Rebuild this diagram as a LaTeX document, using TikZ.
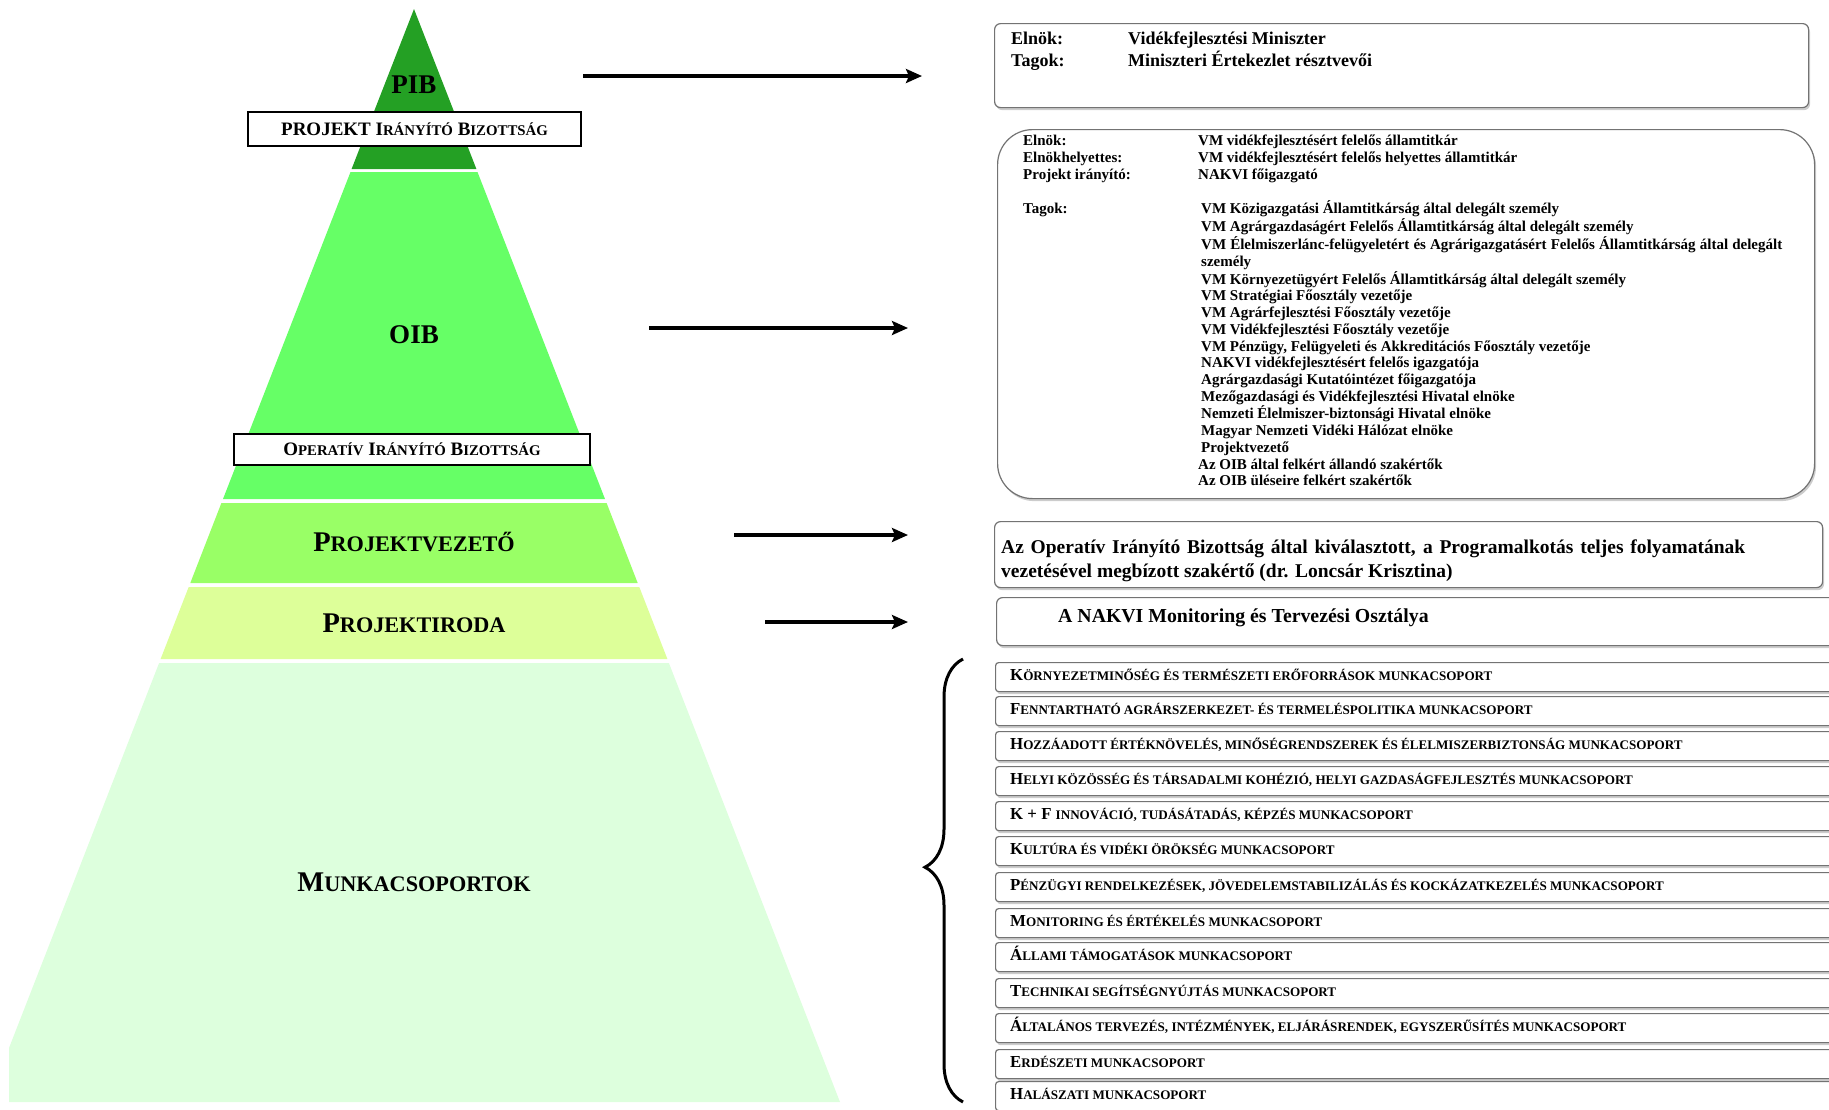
\documentclass[tikz,border=0pt]{standalone}
\usepackage{fontspec}
\setmainfont{Liberation Serif}
\usetikzlibrary{arrows.meta,shadows,decorations.pathreplacing}
\newcommand{\unitsize}{1pt}
\newcommand{\kb}[1]{\scalebox{0.78}{#1}}
\definecolor{pibzold}{RGB}{36,160,36}
\definecolor{oibzold}{RGB}{102,255,102}
\definecolor{pvzold}{RGB}{153,255,102}
\definecolor{pirzold}{RGB}{221,255,153}
\definecolor{mcszold}{RGB}{221,255,221}

\begin{document}
\begin{tikzpicture}
\useasboundingbox (0,0) rectangle (1829*\unitsize,-1109*\unitsize);
\clip (0,0) rectangle (1829*\unitsize,-1109*\unitsize);
\tikzstyle{layertext}=[inner sep=0pt, font=\fontsize{27}{30}\selectfont\bfseries]
\tikzstyle{layersc}=[inner sep=0pt, font=\fontsize{28.5}{31}\selectfont\bfseries]
\tikzstyle{labelbox}=[draw, fill=white, line width=1.5pt, inner sep=0pt,
			font=\fontsize{19}{22}\selectfont\bfseries]
\tikzstyle{infobox}=[draw=black!55, fill=white, line width=1.2pt,
			drop shadow={shadow xshift=1.5pt, shadow yshift=-2.5pt, fill=black!40}]
\tikzstyle{rowbox}=[infobox, rounded corners=3pt,
			minimum width=840*\unitsize, minimum height=29*\unitsize, anchor=north west]
\tikzstyle{rowtext}=[inner sep=0pt, anchor=base west, font=\fontsize{16.8}{19}\selectfont\bfseries]
\tikzstyle{infotext}=[inner sep=0pt, anchor=north west]
\tikzstyle{arrowline}=[line width=3.5pt, -{Stealth[length=16pt, width=14pt, inset=3pt]}]


% piramis
\fill[pibzold] (414*\unitsize,-9*\unitsize) -- (476.4*\unitsize,-169*\unitsize) -- (351.6*\unitsize,-169*\unitsize) -- cycle;

\fill[oibzold] (350.5*\unitsize,-172*\unitsize) -- (477.5*\unitsize,-172*\unitsize) -- (605*\unitsize,-499*\unitsize) -- (223*\unitsize,-499*\unitsize) -- cycle;

\fill[pvzold] (221.4*\unitsize,-503*\unitsize) -- (606.6*\unitsize,-503*\unitsize) -- (637.7*\unitsize,-583*\unitsize) -- (190.3*\unitsize,-583*\unitsize) -- cycle;

\fill[pirzold] (188.7*\unitsize,-587*\unitsize) -- (639.3*\unitsize,-587*\unitsize) -- (667.4*\unitsize,-659*\unitsize) -- (160.6*\unitsize,-659*\unitsize) -- cycle;

\fill[mcszold] (159.1*\unitsize,-663*\unitsize) -- (668.9*\unitsize,-663*\unitsize) -- (840*\unitsize,-1102*\unitsize) -- (9*\unitsize,-1102*\unitsize) -- (9*\unitsize,-1048*\unitsize) -- cycle;


\node[layertext] (pib) at (414*\unitsize,-85*\unitsize) {PIB};

\node[labelbox, minimum width=333*\unitsize, minimum height=34*\unitsize] (pibbox) at (414.5*\unitsize,-129*\unitsize) {PROJEKT I\kb{RÁNYÍTÓ} B\kb{IZOTTSÁG}};

\node[layertext] (oib) at (414*\unitsize,-335*\unitsize) {OIB};

\node[labelbox, minimum width=356*\unitsize, minimum height=31*\unitsize] (oibbox) at (412*\unitsize,-449.5*\unitsize) {O\kb{PERATÍV} I\kb{RÁNYÍTÓ} B\kb{IZOTTSÁG}};

\node[layersc] (pv) at (414*\unitsize,-542*\unitsize) {P\kb{ROJEKTVEZETŐ}};

\node[layersc] (pir) at (414*\unitsize,-623*\unitsize) {P\kb{ROJEKTIRODA}};

\node[layersc] (mcs) at (414*\unitsize,-882*\unitsize) {M\kb{UNKACSOPORTOK}};


% jobb oldali dobozok
\node[infobox, rounded corners=6pt, minimum width=814*\unitsize, minimum height=84*\unitsize, anchor=north west] (pibinfo) at (994*\unitsize,-23*\unitsize) {};

\node[infotext, font=\fontsize{18}{21}\selectfont\bfseries] (pibtagok) at (1011*\unitsize,-30*\unitsize) {\begin{tabular}{@{}p{117pt}@{}l@{}}
Elnök: & Vidékfejlesztési Miniszter\\
Tagok: & Miniszteri Értekezlet résztvevői
\end{tabular}};

\node[infobox, rounded corners=35pt, minimum width=817*\unitsize, minimum height=369*\unitsize, anchor=north west] (oibinfo) at (997*\unitsize,-129*\unitsize) {};

\node[infotext, font=\fontsize{15}{16.7}\selectfont\bfseries] (oibtagok) at (1023*\unitsize,-134*\unitsize) {\begin{tabular}{@{}p{175pt}@{}l@{}}
Elnök: & VM vidékfejlesztésért felelős államtitkár\\
Elnökhelyettes: & VM vidékfejlesztésért felelős helyettes államtitkár\\
Projekt irányító: & NAKVI főigazgató\\
 & \\
Tagok: & \hspace*{3pt}VM Közigazgatási Államtitkárság által delegált személy\\
 & \hspace*{3pt}VM Agrárgazdaságért Felelős Államtitkárság által delegált személy\\
 & \hspace*{3pt}\makebox[581pt][s]{VM Élelmiszerlánc-felügyeletért és Agrárigazgatásért Felelős Államtitkárság által delegált}\\
 & \hspace*{3pt}személy\\
 & \hspace*{3pt}VM Környezetügyért Felelős Államtitkárság által delegált személy\\
 & \hspace*{3pt}VM Stratégiai Főosztály vezetője\\
 & \hspace*{3pt}VM Agrárfejlesztési Főosztály vezetője\\
 & \hspace*{3pt}VM Vidékfejlesztési Főosztály vezetője\\
 & \hspace*{3pt}VM Pénzügy, Felügyeleti és Akkreditációs Főosztály vezetője\\
 & \hspace*{3pt}NAKVI vidékfejlesztésért felelős igazgatója\\
 & \hspace*{3pt}Agrárgazdasági Kutatóintézet főigazgatója\\
 & \hspace*{3pt}Mezőgazdasági és Vidékfejlesztési Hivatal elnöke\\
 & \hspace*{3pt}Nemzeti Élelmiszer-biztonsági Hivatal elnöke\\
 & \hspace*{3pt}Magyar Nemzeti Vidéki Hálózat elnöke\\
 & \hspace*{3pt}Projektvezető\\
 & Az OIB által felkért állandó szakértők\\
 & Az OIB üléseire felkért szakértők
\end{tabular}};

\node[infobox, rounded corners=6pt, minimum width=828*\unitsize, minimum height=66*\unitsize, anchor=north west] (pvinfo) at (994*\unitsize,-521*\unitsize) {};

\node[infotext, font=\fontsize{19.5}{23.5}\selectfont\bfseries] (pvtext) at (1001*\unitsize,-537*\unitsize) {\begin{tabular}{@{}l@{}}
\makebox[744pt][s]{Az Operatív Irányító Bizottság által kiválasztott, a Programalkotás teljes folyamatának}\\
vezetésével megbízott szakértő (dr. Loncsár Krisztina)
\end{tabular}};

\node[infobox, rounded corners=6pt, minimum width=850*\unitsize, minimum height=48*\unitsize, anchor=north west] (pirinfo) at (996*\unitsize,-597*\unitsize) {};

\node[inner sep=0pt, anchor=base west, font=\fontsize{19.8}{23.5}\selectfont\bfseries] (pirtext) at (1058*\unitsize,-622.5*\unitsize) {A NAKVI Monitoring és Tervezési Osztálya};


% munkacsoportok
\node[rowbox] (mcs1) at (995*\unitsize,-662*\unitsize) {};
\node[rowtext] (mcs1t) at (1010*\unitsize,-680*\unitsize) {K\kb{ÖRNYEZETMINŐSÉG ÉS TERMÉSZETI ERŐFORRÁSOK MUNKACSOPORT}};

\node[rowbox] (mcs2) at (995*\unitsize,-696*\unitsize) {};
\node[rowtext] (mcs2t) at (1010*\unitsize,-714*\unitsize) {F\kb{ENNTARTHATÓ AGRÁRSZERKEZET- ÉS TERMELÉSPOLITIKA MUNKACSOPORT}};

\node[rowbox] (mcs3) at (995*\unitsize,-731*\unitsize) {};
\node[rowtext] (mcs3t) at (1010*\unitsize,-749*\unitsize) {H\kb{OZZÁADOTT ÉRTÉKNÖVELÉS, MINŐSÉGRENDSZEREK ÉS ÉLELMISZERBIZTONSÁG MUNKACSOPORT}};

\node[rowbox] (mcs4) at (995*\unitsize,-766*\unitsize) {};
\node[rowtext] (mcs4t) at (1010*\unitsize,-784*\unitsize) {H\kb{ELYI KÖZÖSSÉG ÉS TÁRSADALMI KOHÉZIÓ, HELYI GAZDASÁGFEJLESZTÉS MUNKACSOPORT}};

\node[rowbox] (mcs5) at (995*\unitsize,-801*\unitsize) {};
\node[rowtext] (mcs5t) at (1010*\unitsize,-819*\unitsize) {K + F \kb{INNOVÁCIÓ, TUDÁSÁTADÁS, KÉPZÉS MUNKACSOPORT}};

\node[rowbox] (mcs6) at (995*\unitsize,-836*\unitsize) {};
\node[rowtext] (mcs6t) at (1010*\unitsize,-854*\unitsize) {K\kb{ULTÚRA ÉS VIDÉKI ÖRÖKSÉG MUNKACSOPORT}};

\node[rowbox] (mcs7) at (995*\unitsize,-872*\unitsize) {};
\node[rowtext] (mcs7t) at (1010*\unitsize,-890*\unitsize) {P\kb{ÉNZÜGYI RENDELKEZÉSEK, JÖVEDELEMSTABILIZÁLÁS ÉS KOCKÁZATKEZELÉS MUNKACSOPORT}};

\node[rowbox] (mcs8) at (995*\unitsize,-908*\unitsize) {};
\node[rowtext] (mcs8t) at (1010*\unitsize,-926*\unitsize) {M\kb{ONITORING ÉS ÉRTÉKELÉS MUNKACSOPORT}};

\node[rowbox] (mcs9) at (995*\unitsize,-942*\unitsize) {};
\node[rowtext] (mcs9t) at (1010*\unitsize,-960*\unitsize) {Á\kb{LLAMI TÁMOGATÁSOK MUNKACSOPORT}};

\node[rowbox] (mcs10) at (995*\unitsize,-978*\unitsize) {};
\node[rowtext] (mcs10t) at (1010*\unitsize,-996*\unitsize) {T\kb{ECHNIKAI SEGÍTSÉGNYÚJTÁS MUNKACSOPORT}};

\node[rowbox] (mcs11) at (995*\unitsize,-1013*\unitsize) {};
\node[rowtext] (mcs11t) at (1010*\unitsize,-1031*\unitsize) {Á\kb{LTALÁNOS TERVEZÉS, INTÉZMÉNYEK, ELJÁRÁSRENDEK, EGYSZERŰSÍTÉS MUNKACSOPORT}};

\node[rowbox] (mcs12) at (995*\unitsize,-1049*\unitsize) {};
\node[rowtext] (mcs12t) at (1010*\unitsize,-1067*\unitsize) {E\kb{RDÉSZETI MUNKACSOPORT}};

\node[rowbox] (mcs13) at (995*\unitsize,-1081*\unitsize) {};
\node[rowtext] (mcs13t) at (1010*\unitsize,-1099*\unitsize) {H\kb{ALÁSZATI MUNKACSOPORT}};


% nyilak
\coordinate (pibfrom) at (583*\unitsize,-76*\unitsize);
\coordinate (pibto) at (922*\unitsize,-76*\unitsize);
\draw[arrowline] (pibfrom) -- (pibto);

\coordinate (oibfrom) at (649*\unitsize,-328*\unitsize);
\coordinate (oibto) at (908*\unitsize,-328*\unitsize);
\draw[arrowline] (oibfrom) -- (oibto);

\coordinate (pvfrom) at (734*\unitsize,-535*\unitsize);
\coordinate (pvto) at (908*\unitsize,-535*\unitsize);
\draw[arrowline] (pvfrom) -- (pvto);

\coordinate (pirfrom) at (765*\unitsize,-622*\unitsize);
\coordinate (pirto) at (908*\unitsize,-622*\unitsize);
\draw[arrowline] (pirfrom) -- (pirto);

% kapcsos zarojel
\coordinate (bracebottom) at (963*\unitsize,-1102*\unitsize);
\coordinate (bracetop) at (963*\unitsize,-659*\unitsize);
\draw[line width=3pt, decorate, decoration={brace, amplitude=38pt, aspect=0.53}] (bracebottom) -- (bracetop);

\end{tikzpicture}
\end{document}
